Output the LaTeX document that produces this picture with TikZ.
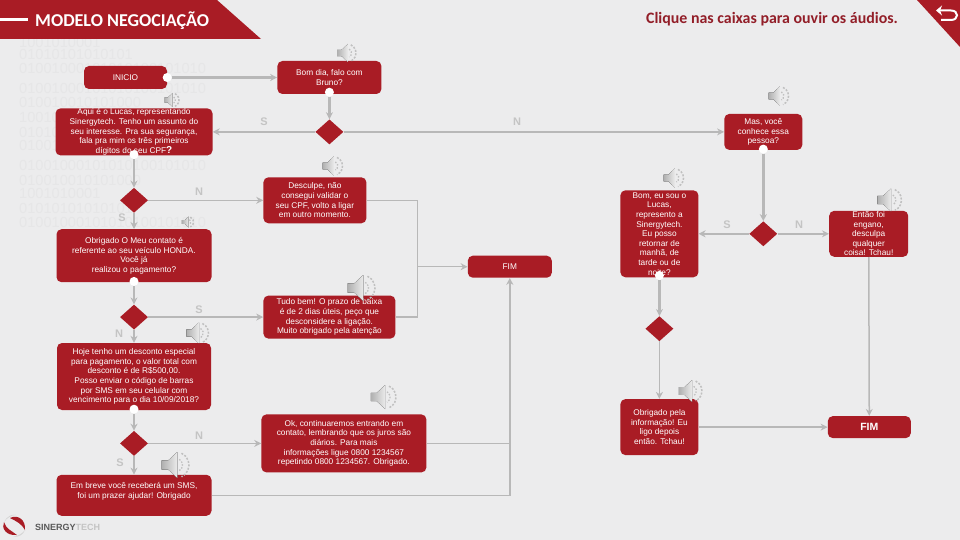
\documentclass[tikz,border=0pt]{standalone}
\usepackage{fontspec}
\setmainfont{Liberation Sans}
\newfontfamily\titlefont{Carlito}
\usetikzlibrary{shapes.geometric, arrows.meta, positioning, calc}
\definecolor{rednode}{RGB}{169,28,37}
\definecolor{darkred}{RGB}{146,30,40}
\definecolor{graybg}{RGB}{236,236,237}
\definecolor{grayline}{RGB}{184,184,184}
\definecolor{graylabel}{RGB}{196,196,196}
\definecolor{graybin}{RGB}{230,230,231}
\definecolor{grayspk}{RGB}{176,176,176}
\tikzset{
  block/.style={
    rectangle, rounded corners=5pt, fill=rednode, text=white,
    align=center, inner sep=0pt, font=\fontsize{8.3}{9.6}\selectfont
  },
  decis/.style={
    diamond, shape aspect=1.1, fill=rednode, inner sep=0pt,
    minimum width=28pt, minimum height=25pt
  },
  ponto/.style={circle, fill=white, inner sep=0pt, minimum size=9pt},
  arr/.style={-{Stealth[length=7pt,width=7pt]}, draw=grayline, line width=2.4pt},
  tarr/.style={-{Stealth[length=7pt,width=7pt]}, draw=grayline, line width=1.5pt},
  lin/.style={draw=grayline, line width=1.5pt},
  rot/.style={text=graylabel, inner sep=0pt, font=\fontsize{11}{11}\selectfont\bfseries},
  bin/.style={text=graybin, anchor=west, inner sep=0pt, font=\fontsize{14.6}{15}\selectfont},
  speaker/.pic={
    \fill[left color=grayspk, right color=grayspk!25!white]
      (-11,-3.5) -- (-6,-3.5) -- (1,-10) -- (1,10) -- (-6,3.5) -- (-11,3.5) -- cycle;
    \draw[grayspk!80!white, line width=1.3pt, dash pattern=on 1.5pt off 1.5pt]
      (60:5) arc (60:-60:5);
    \draw[grayspk!80!white, line width=1.5pt, dash pattern=on 2pt off 1.5pt]
      (65:10) arc (65:-65:10);
  }
}
\begin{document}
\begin{tikzpicture}[x=1pt, y=1pt]
  \useasboundingbox (0,0) rectangle (960,-540);
  \fill[graybg] (0,0) rectangle (960,-540);
  \draw[grayline, line width=1pt] (210,0) -- (960,0) -- (960,-540);

  \foreach \n/\y/\t in {a/42/1001010001, b/54/01010101010101, c/68/01001000101010100101010,
      d/88/01001000101010100101010, e/102/010010010101000, f/117/1001010001,
      g/132/01010101010101, h/145/01001000101010100101010,
      i/165/01001000101010100101010, j/180/010010010101000, k/193/1001010001,
      l/208/01010101010101, m/222/01001000101010100101010}
    \node[bin] (bin\n) at (19,-\y) {\t};

  \fill[rednode] (0,0) -- (217,0) -- (261,-39) -- (0,-39) -- cycle;
  \fill[white] (0,-18) rectangle (28,-21);
  \node[text=white, anchor=west, inner sep=0pt, font=\titlefont\fontsize{18.1}{18}\selectfont\bfseries] (titulo)
        at (35,-21) {MODELO NEGOCIAÇÃO};
  \node[text=darkred, anchor=east, inner sep=0pt, font=\titlefont\fontsize{15.9}{16}\selectfont\bfseries] (aviso)
        at (898,-19) {Clique nas caixas para ouvir os áudios.};
  \fill[rednode] (917,0) -- (960,0) -- (960,-47) -- cycle;
  \draw[white, line width=2pt, {Stealth[length=6pt,width=10pt]}-]
       (936,-10.5) -- (951,-10.5) .. controls (959,-10.5) and (959,-20) .. (951,-20) -- (941,-20);

  \node[block, minimum width=83pt, minimum height=23pt] (inicio) at (125.5,-77.5) {INICIO};
  \node[block, minimum width=104pt, minimum height=33pt, right=110pt of inicio] (bomdia)
        {Bom dia, falo com\\Bruno?};
  \node[decis, below=25pt of bomdia] (dec1) {};
  \node[block, minimum width=157pt, minimum height=47pt, left=102.5pt of dec1] (aqui)
        {Aqui é o Lucas, representando\\Sinergytech. Tenho um assunto do\\seu interesse. Pra sua segurança,\\fala pra mim os três primeiros\\dígitos do seu CPF{\bfseries\fontsize{10}{9.6}\selectfont ?}};
  \node[block, minimum width=78pt, minimum height=36pt, right=380.5pt of dec1] (mas)
        {Mas, você\\conhece essa\\pessoa?};
  \node[decis, below=32pt of aqui] (dec2) {};
  \node[block, minimum width=103pt, minimum height=46pt, right=115pt of dec2] (desculpe)
        {Desculpe, não\\consegui validar o\\seu CPF, volto a ligar\\em outro momento.};
  \node[block, minimum width=155pt, minimum height=53pt, below=16pt of dec2] (obrigado)
        {Obrigado O Meu contato é\\referente ao seu veículo HONDA.\\Você já\\realizou o pagamento?};
  \node[decis, below=22pt of obrigado] (dec3) {};
  \node[block, minimum width=132pt, minimum height=43pt, right=115pt of dec3] (tudo)
        {Tudo bem! O prazo de baixa\\é de 2 dias úteis, peço que\\desconsidere a ligação.\\Muito obrigado pela atenção};
  \node[block, minimum width=154pt, minimum height=67pt, below=13pt of dec3] (hoje)
        {Hoje tenho um desconto especial\\para pagamento, o valor total com\\desconto é de R\$500,00.\\Posso enviar o código de barras\\por SMS em seu celular com\\vencimento para o dia 10/09/2018?};
  \node[decis, below=20.5pt of hoje] (dec4) {};
  \node[block, minimum width=165pt, minimum height=58pt, right=113pt of dec4] (ok)
        {Ok, continuaremos entrando em\\contato, lembrando que os juros são\\diários. Para mais\\informações ligue 0800 1234567\\repetindo 0800 1234567. Obrigado.};
  \node[block, minimum width=155pt, minimum height=41pt, below=18.5pt of dec4] (breve)
        {Em breve você receberá um SMS,\\foi um prazer ajudar! Obrigado\\\mbox{}};
  \node[block, minimum width=84pt, minimum height=22pt, below right=32pt and 101pt of desculpe] (fim1) {FIM};
  \node[decis, below=71pt of mas] (dec5) {};
  \node[block, minimum width=78pt, minimum height=87pt, left=50.5pt of dec5] (bomeu)
        {Bom, eu sou o\\Lucas,\\represento a\\Sinergytech.\\Eu posso\\retornar de\\manhã, de\\tarde ou de\\noite?};
  \node[block, minimum width=79pt, minimum height=46pt, right=51.5pt of dec5] (entao)
        {Então foi\\engano,\\desculpa\\qualquer\\coisa! Tchau!};
  \node[decis, below=38.5pt of bomeu] (dec6) {};
  \node[block, minimum width=78pt, minimum height=56pt, below=57.5pt of dec6] (pela)
        {Obrigado pela\\informação! Eu\\ligo depois\\então. Tchau!};
  \node[block, minimum width=83pt, minimum height=22pt, right=129pt of pela,
        font=\fontsize{10.5}{12}\selectfont\bfseries] (fim2) {FIM};

  \node[ponto] (ptinicio) at (inicio.east) {};
  \node[ponto] (ptbomdia) at ([yshift=2pt]bomdia.south) {};
  \node[ponto] (ptaqui) at ([yshift=1pt]aqui.south) {};
  \node[ponto] (ptobrigado) at ([yshift=1pt]obrigado.south) {};
  \node[ponto] (pthoje) at ([yshift=1pt]hoje.south) {};
  \node[ponto] (ptmas) at ([yshift=1pt]mas.south) {};
  \node[ponto] (ptbomeu) at ([yshift=2pt]bomeu.south) {};

  \coordinate[right=51pt of desculpe] (junc);

  \draw[arr] (ptinicio) -- (bomdia);
  \draw[arr] (ptbomdia) -- (dec1);
  \draw[tarr] (dec1) -- (aqui);
  \draw[tarr] (dec1) -- (mas);
  \draw[arr] (ptaqui) -- (dec2);
  \draw[tarr] (dec2) -- (desculpe);
  \draw[arr] (dec2) -- (obrigado);
  \draw[arr] (ptobrigado) -- (dec3);
  \draw[tarr] (dec3) -- (tudo);
  \draw[arr] (dec3) -- (hoje);
  \draw[arr] (pthoje) -- (dec4);
  \draw[tarr] (dec4) -- (ok);
  \draw[arr] (dec4) -- (breve);
  \draw[lin] (desculpe) -- (junc);
  \draw[lin] (tudo) -| (junc);
  \draw[tarr] (junc |- fim1) -- (fim1);
  \draw[tarr] (breve) -| (fim1);
  \draw[lin] (ok) -- (ok -| fim1);
  \draw[arr] (ptmas) -- (dec5);
  \draw[arr] (dec5) -- (bomeu);
  \draw[tarr] (dec5) -- (entao);
  \draw[arr] (ptbomeu) -- (dec6);
  \draw[tarr] (dec6) -- (pela);
  \draw[tarr] (pela) -- (fim2);
  \draw[tarr] (entao) -- (fim2);

  \node[rot] (s1) at (264,-122) {S};
  \node[rot] (n1) at (517,-122) {N};
  \node[rot] (n2) at (199,-192) {N};
  \node[rot] (s2) at (122,-218) {S};
  \node[rot] (s3) at (199,-310) {S};
  \node[rot] (n3) at (119,-334) {N};
  \node[rot] (n4) at (199,-436) {N};
  \node[rot] (s4) at (120,-463) {S};
  \node[rot] (s5) at (727,-225) {S};
  \node[rot] (n5) at (799,-225) {N};

  \node[inner sep=0pt, font=\fontsize{9}{9}\selectfont\bfseries, text=black!65, anchor=west] (marca)
        at (35,-527) {SINERGY\textcolor{graylabel}{TECH}};
  \fill[grayline!60!white] (4,-522) .. controls (7,-516) and (12,-514) .. (16,-515)
        .. controls (11,-515) and (7,-518) .. (4,-522);
  \fill[grayline!60!white] (25,-530) .. controls (23,-535) and (19,-537) .. (13,-537)
        .. controls (18,-536) and (22,-534) .. (25,-530);
  \fill[rednode] (10,-518) .. controls (18,-514) and (26,-520) .. (25,-530)
        .. controls (22,-524) and (16,-521) .. (10,-518);
  \fill[rednode] (4,-522) .. controls (1,-528) and (6,-536) .. (17,-535)
        .. controls (12,-531) and (6,-529) .. (4,-522);

  \pic[scale=.9] at (347,-53) {speaker};
  \pic[scale=.7] at (172,-100) {speaker};
  \pic[scale=.95] at (779,-96) {speaker};
  \pic[scale=.95] at (333,-166) {speaker};
  \pic[scale=.95] at (674,-178) {speaker};
  \pic[scale=.55] at (188,-222) {speaker};
  \pic[scale=1.05] at (198,-333) {speaker};
  \pic[scale=1.3] at (362,-288) {speaker};
  \pic[scale=1.15] at (890,-200) {speaker};
  \pic[scale=1.3] at (176,-465) {speaker};
  \pic[scale=1.1] at (691,-391) {speaker};
  \pic[scale=1.2] at (384,-397) {speaker};
\end{tikzpicture}
\end{document}
